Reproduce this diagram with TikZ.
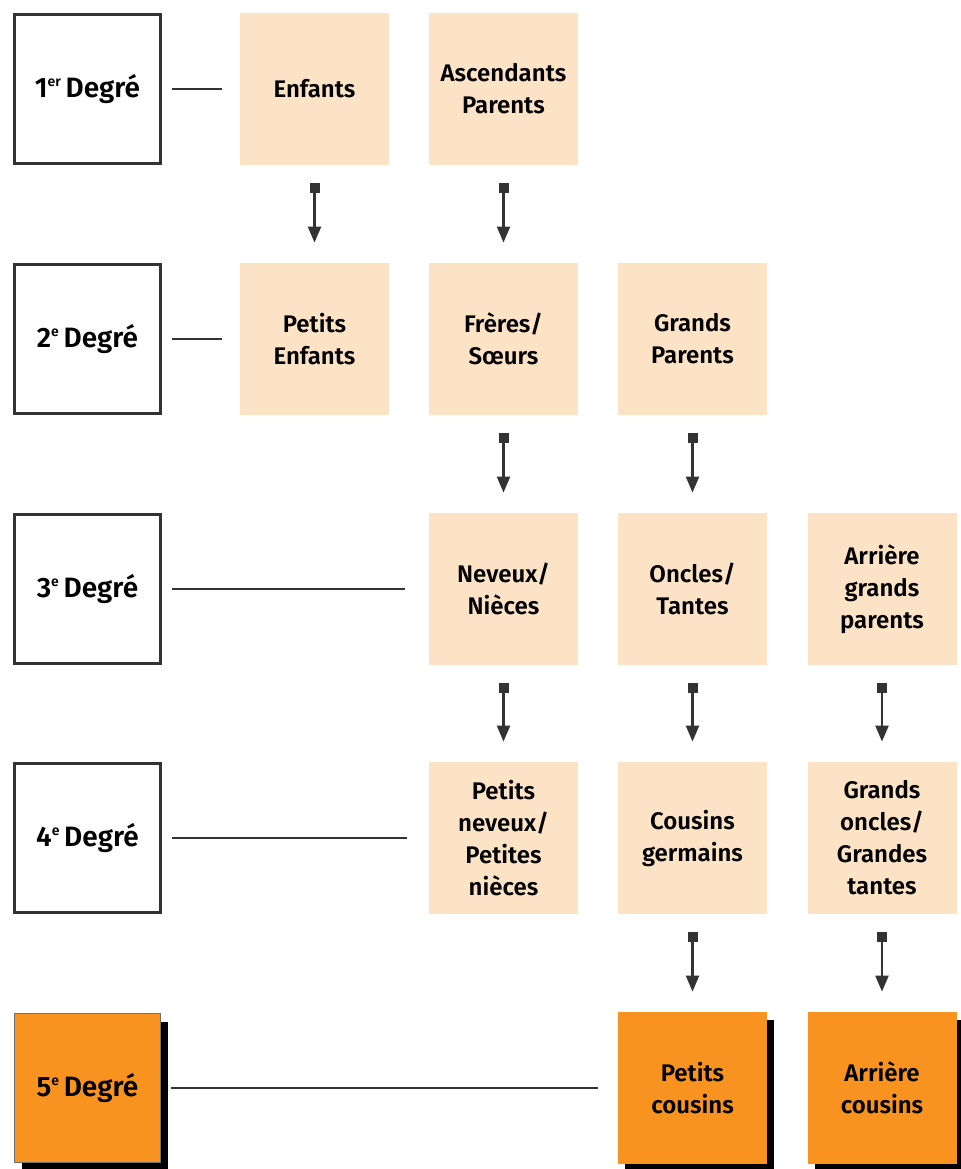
\documentclass[tikz,border=0pt]{standalone}
\usepackage{fontspec}
\setmainfont{Fira Sans}[BoldFont={Fira Sans SemiBold}]
\usetikzlibrary{arrows.meta, shadows}

\definecolor{peach}{HTML}{FDE3C6}
\definecolor{orangebox}{HTML}{F7931E}
\definecolor{linegray}{HTML}{333333}

\newcommand{\ordsup}[1]{\raisebox{0.75ex}{\fontsize{7}{7}\selectfont #1}}

\tikzset{
  degbox/.style={draw=linegray, line width=1.5pt, fill=white, inner sep=0pt,
    minimum width=73pt, minimum height=74.5pt,
    font=\fontsize{14}{16}\selectfont\bfseries},
  kinbox/.style={fill=peach, inner sep=0pt, align=center,
    minimum width=74.5pt, minimum height=76pt,
    font=\fontsize{12}{16}\selectfont\bfseries},
  hotbox/.style={fill=orangebox, drop shadow={shadow xshift=3.5pt,
    shadow yshift=-4pt, opacity=1, fill=black}},
  link/.style={draw=linegray, line width=0.9pt, shorten <=5pt, shorten >=9pt},
  descent/.style={draw=linegray, line width=1.1pt, shorten <=9pt, shorten >=10pt,
    {Square[length=5pt, width=5pt]}-{Triangle[length=8pt, width=6.5pt]}}
}

\begin{document}
\begin{tikzpicture}[x=0.5pt, y=-0.5pt]
  \useasboundingbox (0,0) rectangle (961,1169);

  % degrees
  \node[degbox] (deg1) at (87.5,89)   {1\ordsup{er}\,Degré};
  \node[degbox] (deg2) at (87.5,339)  {2\ordsup{e}\,Degré};
  \node[degbox] (deg3) at (87.5,589)  {3\ordsup{e}\,Degré};
  \node[degbox] (deg4) at (87.5,838)  {4\ordsup{e}\,Degré};
  \node[degbox, hotbox, draw=linegray!70, line width=0.6pt] (deg5) at (87.5,1088) {5\ordsup{e}\,Degré};

  % relatives
  \node[kinbox] (enf) at (314.5,89)  {Enfants};
  \node[kinbox] (asc) at (503.5,89)  {Ascendants\\Parents};
  \node[kinbox] (pe)  at (314.5,339) {Petits\\Enfants};
  \node[kinbox] (fs)  at (503.5,339) {Frères/\\Sœurs};
  \node[kinbox] (gp)  at (692.5,339) {Grands\\Parents};
  \node[kinbox] (nn)  at (503.5,589) {Neveux/\\Nièces};
  \node[kinbox] (ot)  at (692.5,589) {Oncles/\\Tantes};
  \node[kinbox] (agp) at (882,589)   {Arrière\\grands\\parents};
  \node[kinbox] (pnn) at (503.5,838) {Petits\\neveux/\\Petites\\nièces};
  \node[kinbox] (cg)  at (692.5,838) {Cousins\\germains};
  \node[kinbox] (goc) at (882,838)   {Grands\\oncles/\\Grandes\\tantes};
  \node[kinbox, hotbox] (pc) at (692.5,1088) {Petits\\cousins};
  \node[kinbox, hotbox] (ac) at (882,1088)   {Arrière\\cousins};

  % degree links
  \draw[link] (deg1) -- (enf);
  \draw[link] (deg2) -- (pe);
  \draw[link, shorten >=12pt] (deg3) -- (nn);
  \draw[link, shorten >=11pt] (deg4) -- (pnn);
  \draw[link, shorten >=10pt] (deg5) -- (pc);

  % descent arrows
  \draw[descent] (enf) -- (pe);
  \draw[descent] (asc) -- (fs);
  \draw[descent] (fs) -- (nn);
  \draw[descent] (gp) -- (ot);
  \draw[descent] (nn) -- (pnn);
  \draw[descent] (ot) -- (cg);
  \draw[descent] (agp) -- (goc);
  \draw[descent] (cg) -- (pc);
  \draw[descent] (goc) -- (ac);
\end{tikzpicture}
\end{document}
